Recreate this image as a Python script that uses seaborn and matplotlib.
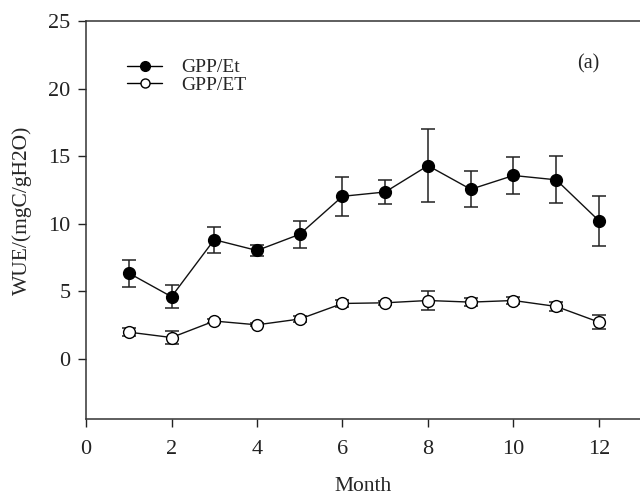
import matplotlib
matplotlib.use("Agg")
import matplotlib.pyplot as plt
from matplotlib.lines import Line2D
import seaborn as sns
import pandas as pd

# Monthly water-use efficiency (mean and error) for the two ratios
months = [1, 2, 3, 4, 5, 6, 7, 8, 9, 10, 11, 12]
gpp_et_transp = [6.35, 4.6, 8.82, 8.02, 9.22, 12.03, 12.35, 14.3, 12.55, 13.57, 13.25, 10.22]
gpp_et_transp_err = [1.0, 0.87, 0.95, 0.37, 1.0, 1.45, 0.88, 2.72, 1.33, 1.39, 1.75, 1.86]
gpp_et_total = [1.98, 1.58, 2.8, 2.52, 2.95, 4.1, 4.15, 4.32, 4.2, 4.32, 3.88, 2.72]
gpp_et_total_err = [0.27, 0.45, 0.15, 0.12, 0.2, 0.27, 0.15, 0.67, 0.3, 0.27, 0.3, 0.52]

series_names = ["GPP/Et", "GPP/ET"]
x_ticks = [0, 2, 4, 6, 8, 10, 12]
y_ticks = [0, 5, 10, 15, 20, 25]

df = pd.DataFrame({
    "Month": months * 2,
    "WUE": gpp_et_transp + gpp_et_total,
    "err": gpp_et_transp_err + gpp_et_total_err,
    "series": [series_names[0]] * 12 + [series_names[1]] * 12,
})

sns.set_theme(style="ticks")
plt.rcParams["font.family"] = ["Liberation Serif", "DejaVu Serif"]

fig = plt.figure(figsize=(6.4, 4.96), dpi=100)
ax = fig.add_axes([0.1344, 0.1552, 0.8656, 0.8024])

face = {series_names[0]: "black", series_names[1]: "white"}
for name in series_names:
    sub = df[df["series"] == name]
    ax.errorbar(sub["Month"], sub["WUE"], yerr=sub["err"], fmt="none",
                ecolor="#222222", elinewidth=1.1, capsize=5, capthick=1.1, zorder=2)
    sns.lineplot(data=sub, x="Month", y="WUE", ax=ax, color="#111111",
                 linewidth=1.0, marker="o", markersize=8.5,
                 markerfacecolor=face[name], markeredgecolor="black",
                 markeredgewidth=1.0, zorder=3, legend=False)

ax.set_xlim(0, 12.96)
ax.set_ylim(-4.45, 25)
ax.set_xticks(x_ticks)
ax.set_yticks(y_ticks)
ax.tick_params(axis="both", direction="out", length=6, width=1.0,
               labelsize=16, colors="#222222")
ax.tick_params(axis="x", pad=9)
ax.tick_params(axis="y", pad=5)
for s in ["left", "bottom", "top"]:
    ax.spines[s].set_color("#333333")
    ax.spines[s].set_linewidth(1.1)
ax.spines["right"].set_visible(False)

ax.set_xlabel("Month", fontsize=15.5, labelpad=13)
ax.set_ylabel("WUE/(mgC/gH2O)", fontsize=15.5)
ax.yaxis.set_label_coords(-0.097, 0.525)

handles = [
    Line2D([], [], color="black", linewidth=1.0, marker="o", markersize=7,
           markerfacecolor="black", markeredgecolor="black"),
    Line2D([], [], color="black", linewidth=1.0, marker="o", markersize=6.5,
           markerfacecolor="white", markeredgecolor="black"),
]
ax.legend(handles, series_names, loc="upper left", bbox_to_anchor=(0.074, 0.905),
          frameon=False, fontsize=14, handlelength=1.8, handletextpad=1.0,
          labelspacing=0.0, borderpad=0, borderaxespad=0)

ax.text(0.906, 0.893, "(a)", transform=ax.transAxes, fontsize=14.5,
        ha="center", va="center")

fig.savefig("out.png", dpi=100)
